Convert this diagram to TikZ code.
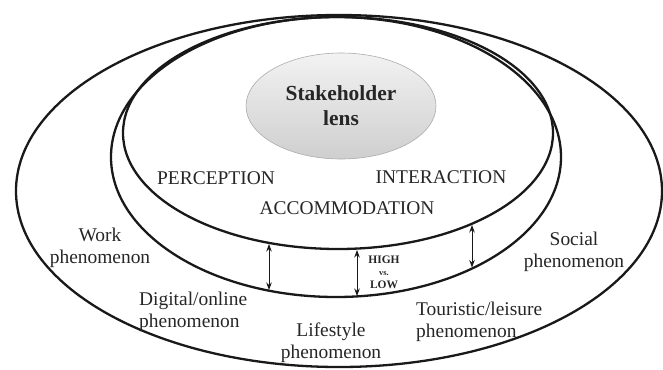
\documentclass[tikz,border=0pt]{standalone}
\usepackage{fontspec}
\setmainfont{Liberation Serif}
\usetikzlibrary{arrows.meta,shapes.geometric}

\begin{document}
\begin{tikzpicture}[x=1bp,y=-1bp,
  ring/.style={draw=black!90,line width=2.3bp,ellipse,inner sep=0pt,outer sep=0pt},
  lens/.style={ellipse,draw=gray!65,line width=0.6bp,top color=gray!10,bottom color=gray!38,
    inner sep=0pt,align=center,text=black!85,font=\fontsize{21.5}{25}\selectfont\bfseries},
  lbl/.style={text=black!85,inner sep=0pt,font=\fontsize{19.5}{22.5}\selectfont},
  dbl/.style={{Stealth[length=7.5bp,width=5.5bp]}-{Stealth[length=7.5bp,width=5.5bp]},
    line width=0.8bp,black!90,shorten <=1bp,shorten >=1bp},
  hl/.style={text=black!85,inner sep=0pt,align=center,font=\fontsize{11.5}{12.5}\selectfont\bfseries}]
\useasboundingbox (0,0) rectangle (663,369);
\clip (0,0) rectangle (663,369);

% three nested rings
\node[ring,minimum width=646bp,minimum height=352bp] (outer) at (339,191) {};
\node[ring,minimum width=450bp,minimum height=280bp] (middle) at (336,157) {};
\node[ring,minimum width=430bp,minimum height=232bp] (inner) at (338,133) {};

% central lens
\node[lens,minimum width=190bp,minimum height=106bp] (lens) at (341,106) {Stakeholder\\lens};

% labels inside the inner ring
\node[lbl] (perc) at (216,178) {PERCEPTION};
\node[lbl] (inter) at (441,177) {INTERACTION};
\node[lbl] (accom) at (347,208) {ACCOMMODATION};

% phenomena
\node[lbl,align=center] (work) at (100,248) {Work\\phenomenon};
\node[lbl,align=center] (social) at (574,252) {Social\\phenomenon};
\node[lbl,align=left,anchor=west] (digital) at (139,312) {Digital/online\\phenomenon};
\node[lbl,align=center] (life) at (331,343) {Lifestyle\\phenomenon};
\node[lbl,align=left,anchor=west] (tour) at (416,322) {Touristic/leisure\\phenomenon};

% gap arrows between the inner and middle rings
\coordinate (a1) at (269,243);
\coordinate (b1) at (269,291);
\coordinate (a2) at (357,249);
\coordinate (b2) at (357,297);
\coordinate (a3) at (472,224);
\coordinate (b3) at (472,268.5);
\draw[dbl] (a1) -- (b1);
\draw[dbl] (a2) -- (b2);
\draw[dbl] (a3) -- (b3);

\node[hl] (hilo) at (384,272) {HIGH\\{\fontsize{8.5}{10}\selectfont vs.}\\LOW};
\end{tikzpicture}
\end{document}
